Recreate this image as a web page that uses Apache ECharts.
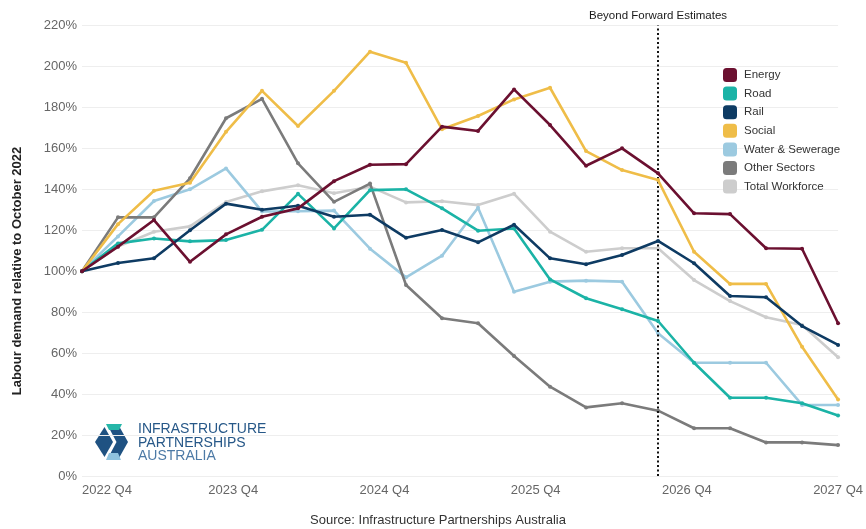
<!DOCTYPE html>
<html>
<head>
<meta charset="utf-8">
<script src="https://cdn.jsdelivr.net/npm/echarts@6/dist/echarts.min.js"></script>
<style>
html,body{margin:0;padding:0;background:#fff;}
#chart{width:866px;height:529px;}
</style>
</head>
<body>
<div id="chart"></div>
<script>
// ---- Data (percent of October 2022 labour demand), one value per quarter ----
const tickLabels = ['2022 Q4', '2023 Q4', '2024 Q4', '2025 Q4', '2026 Q4', '2027 Q4'];
const forecastBoundaryIndex = 16;
const boundaryLabel = 'Beyond Forward Estimates';

const energy = [100, 112, 125, 104.6, 118, 126.6, 130.7, 144, 152, 152.3, 170.6, 168.5, 188.8, 171.4, 151.5, 160, 147.8, 128.3, 127.9, 111.2, 111, 74.6];
const road   = [100, 113.6, 116, 114.6, 115.2, 120.2, 137.8, 120.9, 139.6, 140, 130.7, 119.8, 120.9, 96, 86.8, 81.4, 75.7, 55.3, 38.2, 38.2, 35.5, 29.5];
const rail   = [100, 104, 106.3, 120, 133, 130, 132, 126.6, 127.6, 116.3, 120.1, 114.1, 122.7, 106.3, 103.4, 107.9, 114.8, 103.9, 87.9, 87.3, 73.2, 64];
const social = [100, 123, 139.3, 143.2, 168.1, 188.1, 170.9, 188.1, 207.2, 201.8, 169.3, 175.8, 183.9, 189.6, 158.7, 149.4, 144.5, 109.5, 93.8, 93.8, 63.1, 37.4];
const water  = [100, 117, 134.3, 140, 150.2, 129.2, 129.3, 129.6, 111, 97, 107.6, 131, 90, 94.9, 95.4, 94.9, 69.7, 55.3, 55.3, 55.3, 34.7, 34.7];
const other  = [100, 126.3, 126.3, 145.4, 174.7, 184.2, 152.7, 133.9, 142.8, 93.3, 77, 74.6, 58.6, 43.6, 33.5, 35.5, 31.9, 23.3, 23.3, 16.4, 16.4, 15.1];
const total  = [100, 112, 119.3, 121.9, 133.8, 139, 142, 138.1, 141.3, 133.6, 134.2, 132.3, 137.8, 119.3, 109.5, 111.2, 111.2, 95.7, 85.4, 77.5, 73.7, 58];

const seriesNames = ['Energy', 'Road', 'Rail', 'Social', 'Water & Sewerage', 'Other Sectors', 'Total Workforce'];
const seriesColors = ['#6b1030', '#1bb3a6', '#0e3b63', '#efbd48', '#9ccae0', '#7b7b7b', '#cdcdcd'];
const seriesValues = [energy, road, rail, social, water, other, total];

// ---- Build chart ----
const STEP = 5; // x units per quarter
const nPts = energy.length;
const xMax = (nPts - 1) * STEP;
const tickInterval = xMax / (tickLabels.length - 1);

function toXY(arr) { return arr.map((v, i) => [i * STEP, v]); }

const drawOrder = [6, 4, 5, 1, 3, 2, 0]; // lower first
const series = drawOrder.map((k, j) => {
  const s = {
    name: seriesNames[k],
    type: 'line',
    data: toXY(seriesValues[k]),
    symbol: 'circle',
    symbolSize: 4,
    showSymbol: true,
    color: seriesColors[k],
    lineStyle: { width: 2.6, color: seriesColors[k] },
    itemStyle: { color: seriesColors[k] },
    z: 2 + j,
    animation: false
  };
  if (k === 0) {
    s.markLine = {
      silent: true,
      symbol: ['none', 'none'],
      lineStyle: { type: [2, 2.5], color: '#111', width: 2 },
      label: {
        show: true, position: 'end', formatter: boundaryLabel,
        fontSize: 11.5, color: '#1a1a1a', fontFamily: 'Liberation Sans', distance: 4
      },
      data: [{ xAxis: forecastBoundaryIndex * STEP }]
    };
  }
  return s;
});

const chart = echarts.init(document.getElementById('chart'), null, { renderer: 'canvas' });
chart.setOption({
  backgroundColor: '#ffffff',
  animation: false,
  textStyle: { fontFamily: 'Liberation Sans' },
  grid: { left: 82, right: 26, top: 25.5, bottom: 53, containLabel: false },
  legend: {
    data: seriesNames,
    orient: 'vertical',
    left: 718, top: 63,
    icon: 'roundRect',
    itemWidth: 14, itemHeight: 14, itemGap: 4.6,
    textStyle: { fontSize: 11.5, color: '#333', fontFamily: 'Liberation Sans', padding: [0, 0, 0, 2] }
  },
  xAxis: {
    type: 'value',
    min: 0, max: xMax, interval: tickInterval,
    axisLine: { show: false },
    axisTick: { show: false },
    splitLine: { show: false },
    axisLabel: {
      color: '#666', fontSize: 13, margin: 8,
      alignMinLabel: 'left',
      showMaxLabel: true,
      formatter: function (v) {
        const idx = Math.round(v / tickInterval);
        return tickLabels[idx] || '';
      }
    }
  },
  yAxis: {
    type: 'value',
    min: 0, max: 220, interval: 20,
    axisLine: { show: false },
    axisTick: { show: false },
    splitLine: { lineStyle: { color: '#eeeeee', width: 1 } },
    axisLabel: { color: '#666', fontSize: 13, margin: 5, formatter: '{value}%' }
  },
  series: series,
  graphic: [
    {
      type: 'text', x: 17, y: 271, rotation: Math.PI / 2,
      style: {
        text: 'Labour demand relative to October 2022', fill: '#222',
        font: 'bold 13px "Liberation Sans"', align: 'center', verticalAlign: 'middle'
      }
    },
    {
      type: 'text', x: 438, y: 520,
      style: {
        text: 'Source: Infrastructure Partnerships Australia', fill: '#333',
        font: '13px "Liberation Sans"', align: 'center', verticalAlign: 'middle'
      }
    },
    // logo
    { type: 'polygon', shape: { points: [[95, 442], [104.5, 427], [113, 442], [104.5, 457]] }, style: { fill: '#1f5282' } },
    { type: 'polygon', shape: { points: [[108, 426], [119, 426], [128, 442], [119, 458], [108, 458], [116.5, 442]] }, style: { fill: '#1f5282' } },
    { type: 'polygon', shape: { points: [[106, 424], [122, 424], [119, 430], [109, 430]] }, style: { fill: '#25b6a8' } },
    { type: 'polygon', shape: { points: [[109, 453], [118, 453], [121, 460], [106, 460]] }, style: { fill: '#8fc3df' } },
    {
      type: 'text', x: 138, y: 429,
      style: { text: 'INFRASTRUCTURE', fill: '#275888', font: '14px "Liberation Sans"', verticalAlign: 'middle' }
    },
    {
      type: 'text', x: 138, y: 443,
      style: { text: 'PARTNERSHIPS', fill: '#275888', font: '14px "Liberation Sans"', verticalAlign: 'middle' }
    },
    {
      type: 'text', x: 138, y: 456.5,
      style: { text: 'AUSTRALIA', fill: '#4d7aa6', font: '14px "Liberation Sans"', verticalAlign: 'middle' }
    }
  ]
});
</script>
</body>
</html>
